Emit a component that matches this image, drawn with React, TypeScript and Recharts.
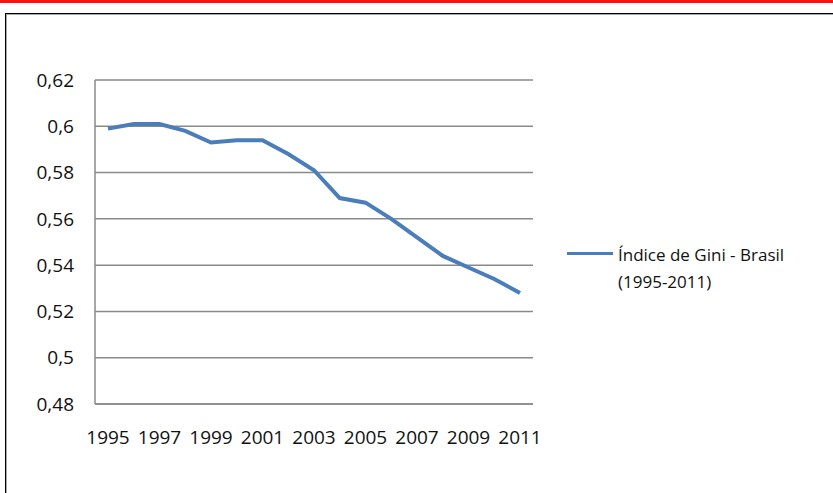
import React from 'react';
import { LineChart, Line, XAxis, YAxis, CartesianGrid, Legend } from 'recharts';

const anos = [
  '1995', '1996', '1997', '1998', '1999', '2000', '2001', '2002', '2003',
  '2004', '2005', '2006', '2007', '2008', '2009', '2010', '2011',
];
const gini = [
  0.599, 0.601, 0.601, 0.598, 0.593, 0.594, 0.594, 0.588, 0.581,
  0.569, 0.567, 0.56, 0.552, 0.544, 0.539, 0.534, 0.528,
];
const yTicks = [0.48, 0.5, 0.52, 0.54, 0.56, 0.58, 0.6, 0.62];

const data = anos.map((ano, i) => ({ ano, gini: gini[i] }));

const fonte = '"Open Sans", "Liberation Sans", sans-serif';

// Excel mostra 0,6 e 0,5 sem o zero final
const fmtY = (v: number) => String(Number(v.toFixed(2))).replace('.', ',');

function LegendaGini(props: any) {
  const item = props.payload?.[0];
  const cor = item?.color || '#4a7ebb';
  return (
    <div style={{ display: 'flex', alignItems: 'flex-start', fontFamily: fonte, fontSize: 17, color: '#111' }}>
      <div style={{ width: 46, height: 3, background: cor, marginTop: 11, marginRight: 5 }} />
      <div style={{ lineHeight: '27px' }}>
        Índice de Gini - Brasil
        <br />
        (1995-2011)
      </div>
    </div>
  );
}

export default function App() {
  return (
    <div style={{ position: 'fixed', left: 0, top: 0, width: 833, height: 493, background: '#fff', overflow: 'hidden' }}>
      <div style={{ position: 'absolute', left: 0, top: 0, width: 833, height: 3, background: '#ff1010' }} />
      <div
        style={{
          position: 'absolute',
          left: 5,
          top: 13,
          width: 900,
          height: 600,
          border: '1px solid #000',
          boxShadow: 'inset 1px 1px 0 #a8a8a8',
        }}
      />
      <div style={{ position: 'absolute', left: 0, top: 0 }}>
        <LineChart width={833} height={493} data={data} margin={{ top: 80, right: 40, bottom: 0, left: 15 }}>
          <CartesianGrid vertical={false} stroke="#8a8a8a" strokeWidth={1.5} />
          <XAxis
            dataKey="ano"
            interval={1}
            padding={{ left: 13, right: 13 }}
            height={89}
            stroke="#8a8a8a"
            strokeWidth={1.5}
            tickLine={false}
            tickMargin={21}
            tick={{ fill: '#111', fontSize: 19, fontFamily: fonte }}
          />
          <YAxis
            domain={[0.48, 0.62]}
            ticks={yTicks}
            width={80}
            stroke="#8a8a8a"
            strokeWidth={1.5}
            tickLine={false}
            tickMargin={15}
            tickFormatter={fmtY}
            tick={{ fill: '#111', fontSize: 19, fontFamily: fonte }}
          />
          <Legend
            layout="vertical"
            align="right"
            verticalAlign="middle"
            content={<LegendaGini />}
            wrapperStyle={{ left: 567, top: 241, width: 260 }}
          />
          <Line
            type="linear"
            dataKey="gini"
            name="Índice de Gini - Brasil (1995-2011)"
            stroke="#4a7ebb"
            strokeWidth={4}
            dot={false}
            isAnimationActive={false}
          />
        </LineChart>
      </div>
    </div>
  );
}
